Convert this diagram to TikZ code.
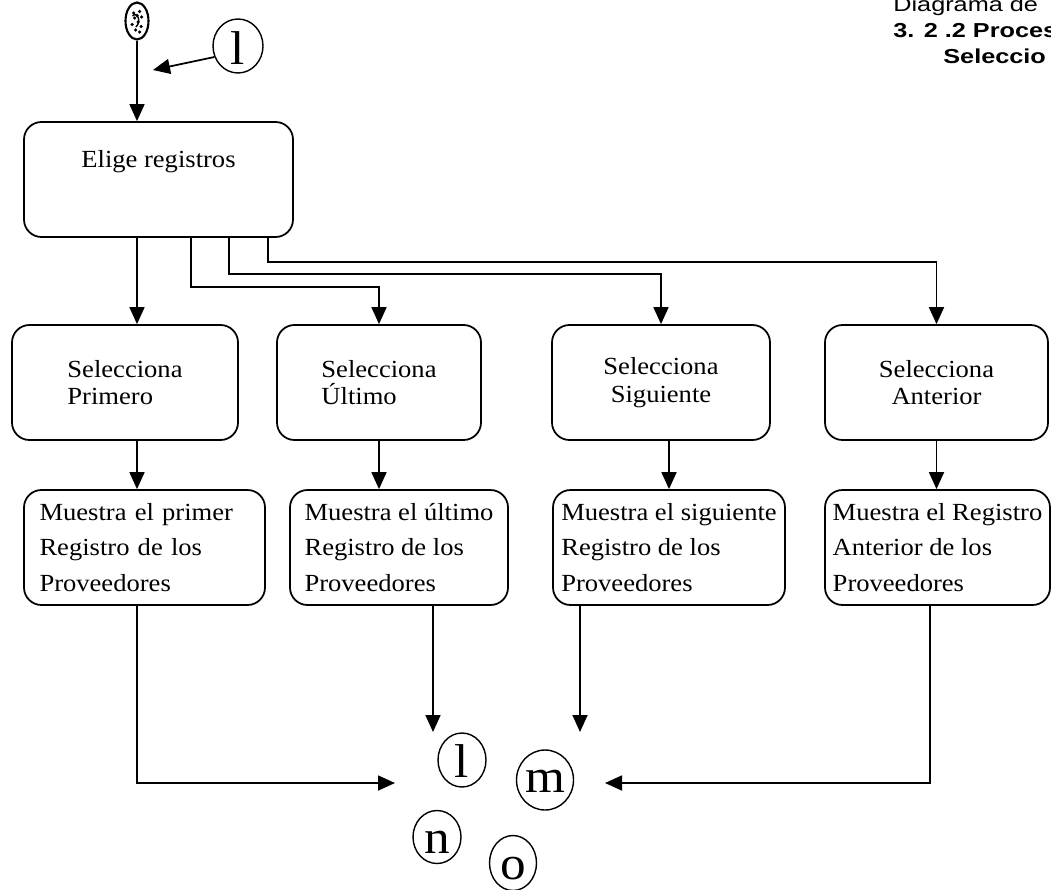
\documentclass[tikz,border=0pt]{standalone}
\usepackage{fontspec}
\setmainfont[FakeStretch=1.08]{Liberation Serif}
\newfontfamily\headfont[FakeStretch=1.25]{Liberation Sans}
\usetikzlibrary{shapes.geometric, arrows.meta, positioning, calc}

\begin{document}
\begin{tikzpicture}[
    rbox/.style={rectangle, draw, rounded corners=0.35cm, line width=1pt, minimum height=2.3cm, inner sep=2pt},
    selbox/.style={rbox, font=\fontsize{14}{15.5}\selectfont},
    showbox/.style={rbox, align=left, font=\fontsize{14}{20}\selectfont},
    letter/.style={ellipse, draw, line width=0.8pt, inner sep=0pt, text height=0.64cm, text depth=0pt, font=\fontsize{27}{27}\selectfont},
    head/.style={anchor=base west, inner sep=0pt},
    conn/.style={-{Triangle[length=3.4mm, width=3mm]}, line width=1pt}
]

% Page frame
\useasboundingbox (0,0) rectangle (21.02,-17.78);

% ==================== HEADING ====================

\node[head, font=\headfont\fontsize{11.5}{13}\selectfont] (head1) at (17.86,-0.24) {Diagrama de};
\node[head, font=\headfont\bfseries\fontsize{11.5}{13}\selectfont] (head2) at (17.86,-0.76) {3. 2 .2 Proces};
\node[head, font=\headfont\bfseries\fontsize{11.5}{13}\selectfont] (head3) at (18.86,-1.26) {Seleccio};

% ==================== START ====================

\node[ellipse, draw, line width=1.2pt, minimum width=0.46cm, minimum height=0.74cm, inner sep=0pt] (start) at (2.74,-0.42) {};
\foreach \dx/\dy in {-0.07/0.16, 0.05/0.19, 0.09/0.08, -0.05/0.06, 0.02/-0.02, -0.10/-0.07, 0.08/-0.11, -0.03/-0.18, 0.05/-0.22, 0.00/0.11}
    \fill ([shift={(\dx,\dy)}]start.center) circle (0.035);
\draw[line width=0.8pt] ([shift={(-0.09,0.1)}]start.center) .. controls ([shift={(0,0.2)}]start.center) and ([shift={(0.1,0)}]start.center) .. ([shift={(-0.02,-0.12)}]start.center);

% connector mark 1
\node[letter, text height=0.72cm, minimum width=1.0cm, minimum height=1.08cm] (top1) at (4.76,-0.92) {l};
\coordinate (note_tip) at (3.06,-1.40);
\draw[conn] (top1.205) -- (note_tip);

% ==================== ELIGE ====================

\node[rbox, minimum width=5.38cm, text height=0.35cm, text depth=0.85cm, font=\fontsize{14}{15.5}\selectfont] (elige) at (3.17,-3.59) {Elige registros};
\draw[conn] (start.south) -- (start |- elige.north);

% Branch bends
\coordinate (c2) at (3.82,-5.74);
\coordinate (c3) at (4.58,-5.48);
\coordinate (c4) at (5.36,-5.24);

% ==================== SELECCIONA ROW ====================

\node[selbox, minimum width=4.52cm, align=left] (sel1) at (2.50,-7.65) {Selecciona\\Primero};
\node[selbox, minimum width=4.08cm, align=left] (sel2) at (7.58,-7.65) {Selecciona\\Último};
\node[selbox, minimum width=4.36cm, align=center] (sel3) at (13.22,-7.65) {Selecciona\\Siguiente};
\node[selbox, minimum width=4.46cm, align=center] (sel4) at (18.73,-7.65) {Selecciona\\Anterior};

\draw[conn] (start |- elige.south) -- (start |- sel1.north);
\draw[conn] (elige.south -| c2) -- (c2) -| (sel2.north);
\draw[conn] (elige.south -| c3) -- (c3) -| (sel3.north);
\draw[conn] (elige.south -| c4) -- (c4) -| (sel4.north);

% ==================== MUESTRA ROW ====================

\node[showbox, minimum width=4.82cm, text width=4.2cm] (mue1) at (2.89,-10.95) {Muestra el primer\\Registro de los\\Proveedores};
\node[showbox, minimum width=4.36cm] (mue2) at (7.98,-10.95) {Muestra el último\\Registro de los\\Proveedores};
\node[showbox, minimum width=4.64cm] (mue3) at (13.38,-10.95) {Muestra el siguiente\\Registro de los\\Proveedores};
\node[showbox, minimum width=4.50cm] (mue4) at (18.75,-10.95) {Muestra el Registro\\Anterior de los\\Proveedores};

\draw[conn] (start |- sel1.south) -- (start |- mue1.north);
\draw[conn] (sel2.south) -- (sel2.south |- mue2.north);
\draw[conn] (mue3.north |- sel3.south) -- (mue3.north);
\draw[conn] (sel4.south) -- (sel4.south |- mue4.north);

% ==================== CONNECTOR MARKS ====================

\node[letter, text height=0.68cm, minimum width=0.96cm, minimum height=1.08cm] (mk_l) at (9.24,-15.20) {l};
\node[letter, text height=0.48cm, minimum width=1.14cm, minimum height=1.20cm] (mk_m) at (10.90,-15.60) {m};
\node[letter, minimum width=0.96cm, minimum height=1.06cm] (mk_n) at (8.74,-16.74) {n};
\node[letter, minimum width=0.94cm, minimum height=1.10cm] (mk_o) at (10.26,-17.26) {o};

\coordinate (in_l) at (7.90,-15.66);
\coordinate (in_u) at (8.66,-14.64);
\coordinate (in_s) at (11.60,-14.64);
\coordinate (in_a) at (12.10,-15.66);
\coordinate (turn_a) at (18.60,-15.66);

\draw[conn] (start |- mue1.south) -- (start |- in_l) -- (in_l);
\draw[conn] (in_u |- mue2.south) -- (in_u);
\draw[conn] (in_s |- mue3.south) -- (in_s);
\draw[conn] (turn_a |- mue4.south) -- (turn_a) -- (in_a);

\end{tikzpicture}
\end{document}
